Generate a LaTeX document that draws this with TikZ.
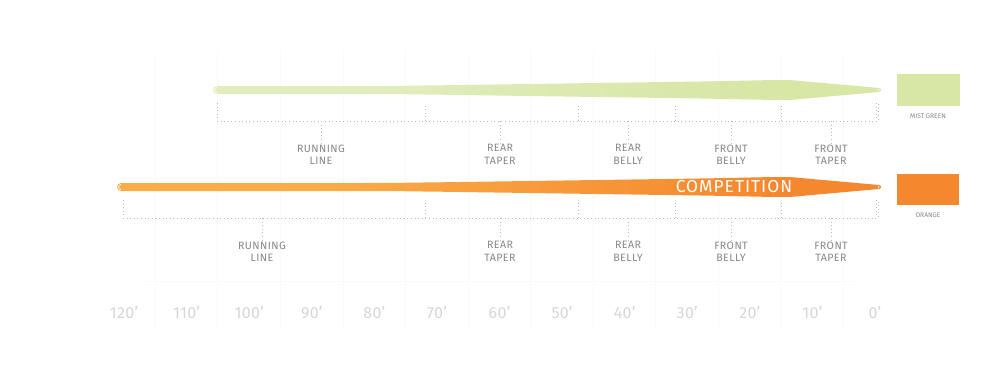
\documentclass[tikz,border=0pt]{standalone}
\usepackage{fontspec}
\setmainfont{Fira Sans}
\usetikzlibrary{calc}
\definecolor{mistgreen}{HTML}{D8E6A6}
\definecolor{paleGreen}{HTML}{E2EDBE}
\definecolor{flyorange}{HTML}{F5882F}
\definecolor{lightorange}{HTML}{F9AC48}
\definecolor{labelgray}{HTML}{878787}
\definecolor{axisgray}{HTML}{D6D6D6}
\pgfdeclarehorizontalshading{greenfade}{100bp}{color(0bp)=(paleGreen); color(35bp)=(paleGreen); color(65bp)=(mistgreen); color(100bp)=(mistgreen)}
\pgfdeclarehorizontalshading{orangefade}{100bp}{color(0bp)=(lightorange); color(38bp)=(lightorange); color(68bp)=(flyorange); color(100bp)=(flyorange)}
\tikzset{
  bracket/.style={draw=gray!55, dotted, line width=0.7pt},
  seglabel/.style={text=labelgray, align=center, inner sep=1pt, anchor=north,
    font=\fontsize{8}{9.2}\selectfont\addfontfeature{LetterSpace=4}},
  ftlabel/.style={text=axisgray, inner sep=0pt,
    font=\fontsize{12}{12}\selectfont\addfontfeature{LetterSpace=2}},
  swatchlabel/.style={text=labelgray, inner sep=0pt, font=\fontsize{5}{5}\selectfont},
  gridline/.style={draw=gray!4, line width=0.5pt}
}

\begin{document}
\begin{tikzpicture}[x=0.75pt,y=0.75pt,yscale=-1,xscale=1]
    \useasboundingbox (0,0) rectangle (1000,375);
    % faint grid behind
    \foreach \gx in {155,217,280,343,405,468,530,593,655,718,780,843}
      \draw[gridline] (\gx,50) -- (\gx,330);
    \draw[gridline] (145,281) -- (855,281);
    % mist green line
    \shade[shading=greenfade] (217,86) -- (360,86) .. controls (400,86) and (410,85.6) .. (440,85.3) -- (700,81.5) .. controls (760,80.5) and (775,79.6) .. (792,80.2) -- (879,88) arc[start angle=-90,end angle=90,radius=2] -- (792,99.8) .. controls (775,100.4) and (760,99.5) .. (700,98.5) -- (440,94.7) .. controls (410,94.4) and (400,94) .. (360,94) -- (217,94) arc[start angle=90,end angle=270,radius=4] -- cycle;
    \draw[white, line width=0.5pt] (217,87.5) arc[start angle=-90,end angle=-270,radius=2.5];
    \draw[white, line width=0.4pt] (878,88.8) arc[start angle=-90,end angle=90,radius=1.2];
    % orange line
    \shade[shading=orangefade] (121,183) -- (360,183) .. controls (400,183) and (410,182.6) .. (440,182.3) -- (700,178.5) .. controls (760,177.5) and (775,176.6) .. (792,177.2) -- (879,185) arc[start angle=-90,end angle=90,radius=2] -- (792,196.8) .. controls (775,197.4) and (760,196.5) .. (700,195.5) -- (440,191.7) .. controls (410,191.4) and (400,191) .. (360,191) -- (121,191) arc[start angle=90,end angle=270,radius=4] -- cycle;
    \draw[white, line width=0.5pt] (121,184.5) arc[start angle=-90,end angle=-270,radius=2.5];
    \draw[white, line width=0.4pt] (878,185.8) arc[start angle=-90,end angle=90,radius=1.2];
    \node[text=white, inner sep=0pt, font=\fontsize{13}{13}\selectfont\addfontfeature{LetterSpace=6}] (comp) at (734,187) {COMPETITION};
    % green bracket
    \draw[bracket] (217,103) -- (217,121) -- (878,121) -- (878,103);
    \draw[bracket] (876,103) -- (876,121);
    \foreach \tx in {425,578,675,781}
      \draw[bracket] (\tx,121) -- (\tx,103);
    \node[seglabel] (gRun) at (321,143) {RUNNING\\LINE};
    \node[seglabel] (gRearTaper) at (500,143) {REAR\\TAPER};
    \node[seglabel] (gRearBelly) at (628,143) {REAR\\BELLY};
    \node[seglabel] (gFrontBelly) at (731,143) {FRONT\\BELLY};
    \node[seglabel] (gFrontTaper) at (831,143) {FRONT\\TAPER};
    \foreach \lab in {gRun,gRearTaper,gRearBelly,gFrontBelly,gFrontTaper}
      \draw[bracket] (\lab.north |- 0,121) -- (\lab.north);
    % orange bracket
    \draw[bracket] (123,200) -- (123,218) -- (878,218) -- (878,200);
    \draw[bracket] (876,200) -- (876,218);
    \foreach \tx in {425,578,675,781}
      \draw[bracket] (\tx,218) -- (\tx,200);
    \node[seglabel] (oRun) at (262,240) {RUNNING\\LINE};
    \node[seglabel] (oRearTaper) at (500,240) {REAR\\TAPER};
    \node[seglabel] (oRearBelly) at (628,240) {REAR\\BELLY};
    \node[seglabel] (oFrontBelly) at (731,240) {FRONT\\BELLY};
    \node[seglabel] (oFrontTaper) at (831,240) {FRONT\\TAPER};
    \foreach \lab in {oRun,oRearTaper,oRearBelly,oFrontBelly,oFrontTaper}
      \draw[bracket] (\lab.north |- 0,218) -- (\lab.north);
    % colour swatches
    \fill[mistgreen] (897,74) rectangle (960,106);
    \node[swatchlabel] (greenName) at (928,116) {MIST GREEN};
    \fill[flyorange] (897,174) rectangle (959,205);
    \node[swatchlabel] (orangeName) at (928,215) {ORANGE};
    % feet scale
    \foreach \ft in {0,10,...,120}
      \node[ftlabel] (ft\ft) at ({875-6.258*\ft},313) {\ft’};
  \end{tikzpicture}
\end{document}
